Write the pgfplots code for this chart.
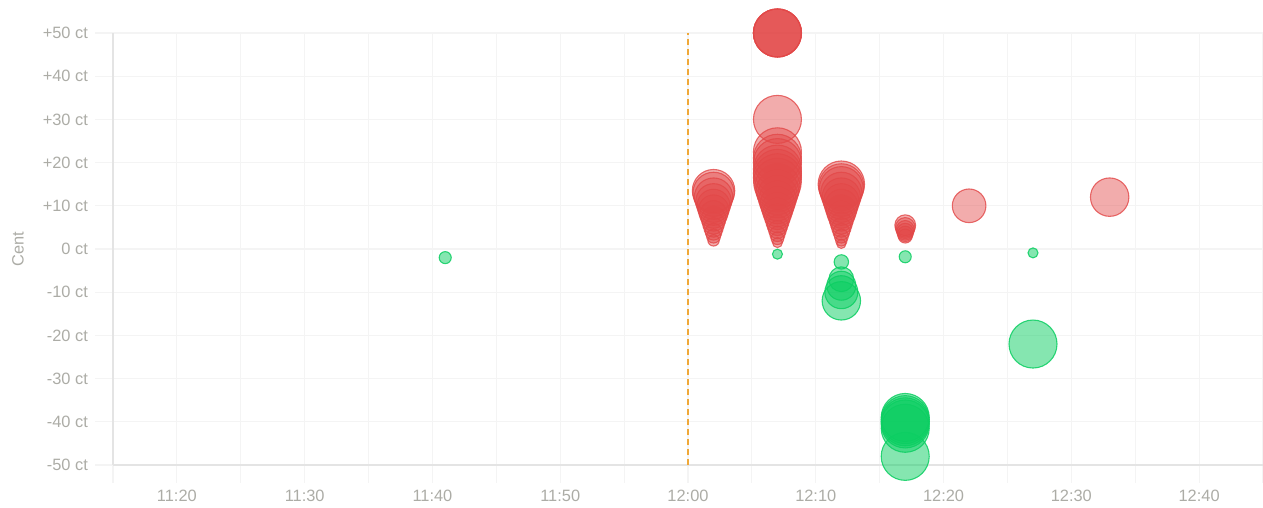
\documentclass[border=0pt]{standalone}
\usepackage{pgfplots}
\pgfplotsset{compat=1.18}
\usepackage{fontspec}
\setmainfont{Liberation Sans}
\definecolor{redc}{RGB}{226,72,72}
\definecolor{greenc}{RGB}{12,206,98}
\definecolor{labgray}{RGB}{172,172,166}
\definecolor{gridc}{RGB}{244,244,244}
\definecolor{axisc}{RGB}{228,228,228}
\definecolor{orangec}{RGB}{240,168,56}

\pgfplotstableread{
x y r
62 13.5 10.6
62 13.0 10.3
62 12.0 9.6
62 11.0 8.9
62 10.0 8.25
62 9.0 7.6
62 8.0 6.9
62 7.0 6.2
62 6.0 5.55
62 5.0 4.9
62 4.0 4.2
62 3.0 3.5
62 2.0 2.85
67 50 12
67 50 12
67 50 12
67 50 12
67 30 12
67 22.5 12
67 21 12
67 20 12
67 18.5 12
67 17.5 12
67 16.5 12
67 15.5 11.9
67 14.5 11.3
67 13.5 10.6
67 12.5 9.9
67 11.5 9.3
67 10.5 8.6
67 9.5 7.9
67 8.5 7.25
67 7.5 6.55
67 6.5 5.9
67 5.5 5.2
67 4.5 4.5
67 3.5 3.85
67 2.5 3.2
67 1.5 2.5
72 15.0 11.6
72 14.5 11.3
72 14.0 10.95
72 13.0 10.3
72 12.0 9.6
72 11.0 8.9
72 10.0 8.25
72 9.0 7.6
72 8.0 6.9
72 7.0 6.2
72 6.0 5.55
72 5.0 4.9
72 4.0 4.2
72 3.0 3.5
72 2.0 2.85
72 1.2 2.3
77 5.5 5.2
77 5.0 4.9
77 4.5 4.5
77 4.0 4.2
77 3.5 3.85
77 3.0 3.5
82 10.0 8.4
93 12.0 9.6
}\redtab

\pgfplotstableread{
x y r
41 -2.0 3.0
67 -1.2 2.5
72 -3.0 3.6
72 -7.0 6.2
72 -8.5 7.25
72 -10.0 8.25
72 -12.0 9.6
77 -1.8 3.0
77 -39.0 12
77 -39.5 12
77 -40.0 12
77 -40.5 12
77 -41.5 12
77 -48.0 12
87 -0.9 2.5
87 -22.0 12
}\greentab

\begin{document}
\begin{tikzpicture}
\begin{axis}[
  at={(0,0)}, anchor=south west,
  scale only axis,
  width=575pt, height=216pt,
  xmin=15, xmax=105,
  ymin=-50, ymax=50,
  clip=false,
  axis lines*=left,
  axis line style={draw=axisc, line width=1pt},
  xtick={20,30,40,50,60,70,80,90,100},
  xticklabels={11:20,11:30,11:40,11:50,12:00,12:10,12:20,12:30,12:40},
  minor xtick={15,25,35,45,55,65,75,85,95,105},
  ytick={-50,-40,-30,-20,-10,0,10,20,30,40,50},
  yticklabels={-50 ct,-40 ct,-30 ct,-20 ct,-10 ct,0 ct,+10 ct,+20 ct,+30 ct,+40 ct,+50 ct},
  grid=both,
  major grid style={draw=gridc, line width=0.6pt},
  minor grid style={draw=gridc, line width=0.6pt},
  tick align=outside,
  major tick length=9pt,
  minor tick length=9pt,
  every tick/.style={draw=gridc, line width=0.6pt},
  tick label style={font=\fontsize{8.2}{10}\selectfont, text=labgray},
  ylabel={Cent},
  every axis y label/.style={at={(axis description cs:0,0.5)}, xshift=-47.5pt, rotate=90, anchor=center, font=\fontsize{8.2}{10}\selectfont, text=labgray},
]
\addplot[draw=orangec, line width=1pt, dash pattern=on 3pt off 2pt] coordinates {(60,-50) (60,50)};
\addplot[
  scatter, only marks, mark=*,
  visualization depends on={\thisrow{r} \as \rad},
  scatter/@pre marker code/.code={\scope[mark size=\rad, draw=redc, fill=redc, fill opacity=0.45, draw opacity=0.8, line width=0.55pt]},
  scatter/@post marker code/.code={\endscope},
] table[x=x, y=y] {\redtab};
\addplot[
  scatter, only marks, mark=*,
  visualization depends on={\thisrow{r} \as \rad},
  scatter/@pre marker code/.code={\scope[mark size=\rad, draw=greenc, fill=greenc, fill opacity=0.5, draw opacity=0.85, line width=0.55pt]},
  scatter/@post marker code/.code={\endscope},
] table[x=x, y=y] {\greentab};
\end{axis}
\pgfresetboundingbox
\useasboundingbox (-56.5pt,-21.5pt) rectangle (575pt,232.5pt);
\end{tikzpicture}
\end{document}
